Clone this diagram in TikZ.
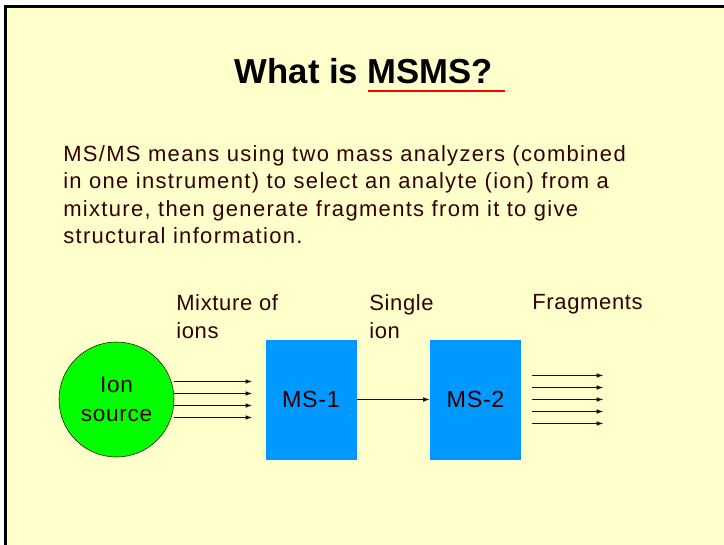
\documentclass[tikz,border=0pt]{standalone}
\usepackage{fontspec}
\setmainfont{Liberation Sans}
\newfontfamily\bodyfont[LetterSpace=6]{Liberation Sans}
\newfontfamily\tagfont[LetterSpace=3]{Liberation Sans}
\newfontfamily\boxfont[LetterSpace=3]{Liberation Sans}
\usetikzlibrary{positioning, arrows.meta}
\definecolor{SlideYellow}{RGB}{255, 255, 204}
\definecolor{TextBrown}{RGB}{51, 0, 0}
\definecolor{AnalyserBlue}{RGB}{0, 153, 255}
\definecolor{SourceGreen}{RGB}{0, 255, 0}

\begin{document}
\begin{tikzpicture}[x=0.75pt, y=-0.75pt,
      title/.style={anchor=base, inner sep=0, font=\fontsize{26}{30}\selectfont\bfseries},
      body/.style={anchor=north west, inner sep=0, align=left, text=TextBrown,
      font=\bodyfont\fontsize{16.5}{20.6}\selectfont},
      tag/.style={anchor=north west, inner sep=0, align=left, text=TextBrown,
      font=\tagfont\fontsize{16.5}{21}\selectfont},
      source/.style={circle, draw=TextBrown, fill=SourceGreen, minimum size=86.25pt, inner sep=0,
      align=center, text=TextBrown, font=\boxfont\fontsize{17}{22}\selectfont},
      analyser/.style={rectangle, fill=AnalyserBlue, minimum width=68.25pt, minimum height=90pt,
      inner sep=0, text=TextBrown, font=\boxfont\fontsize{17.5}{22}\selectfont},
      ray/.style={draw=TextBrown, line width=0.75pt, -{Latex[length=5pt, width=3.5pt]}}
    ]
      \useasboundingbox (0,0) rectangle (724,545);
      % slide background and frame
      \fill[white] (0,0) rectangle (724,545);
      \fill[SlideYellow] (6,7) rectangle (724,545);
      \draw[line width=2.25pt] (5.5,545) -- (5.5,6.5) -- (724,6.5);

      \node[title] (head) at (364,84) {What is MSMS?};
      \draw[red, line width=2pt] (368,91) -- (505,91);

      \node[body] (intro) at (63,145) {MS/MS means using two mass analyzers (combined\\
        in one instrument) to select an analyte (ion) from a\\
        mixture, then generate fragments from it to give\\
        structural information.};

      \node[source] (src) at (116.5,399.5) {Ion\\source};
      \node[analyser, right=68.25pt of src] (ms1) {MS-1};
      \node[analyser, right=54.75pt of ms1] (ms2) {MS-2};

      \node[tag] (mix) at (176,294) {Mixture of\\ions};
      \node[tag] (single) at (369,294) {Single\\ion};
      \node[tag] (frag) at (532,294) {Fragments};

      \foreach \dy in {13.5, 4.5, -4.5, -13.5}
        \draw[ray, shorten >=9.75pt] ([yshift=\dy pt]src.east) -- ([yshift=\dy pt]ms1.west);
      \draw[ray] (ms1) -- (ms2);
      \foreach \dy in {18, 9, 0, -9, -18}
        \draw[ray] ([xshift=8.25pt, yshift=\dy pt]ms2.east) -- ++(71,0);
    \end{tikzpicture}
\end{document}
